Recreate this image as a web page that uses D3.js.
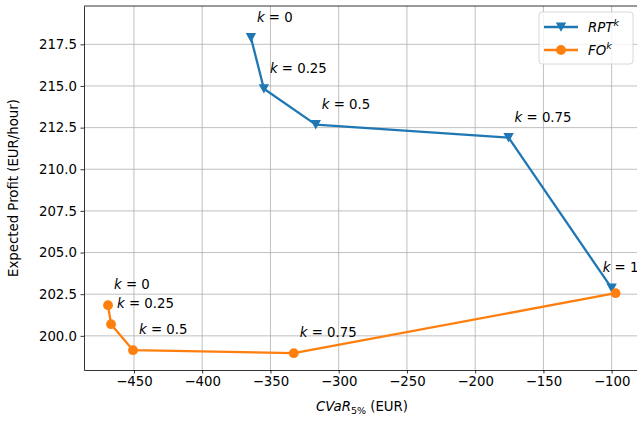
<!DOCTYPE html>
<html>
<head>
<meta charset="utf-8">
<script src="https://cdn.jsdelivr.net/npm/d3@7"></script>
<style>
  body { margin: 0; background: #fff; }
  svg text { font-family: "DejaVu Sans", sans-serif; }
</style>
</head>
<body>
<div id="chart"></div>
<script>
// data
const kLabels = ["0", "0.25", "0.5", "0.75", "1"];
const rptCvar = [-364.3, -354.8, -316.8, -175.5, -100.0];
const rptProfit = [217.9, 214.83, 212.68, 211.9, 202.86];
const foCvar = [-469.0, -466.8, -450.7, -332.9, -97.1];
const foProfit = [201.84, 200.7, 199.14, 198.96, 202.56];
const xTicks = [-450, -400, -350, -300, -250, -200, -150, -100];
const yTicks = [200.0, 202.5, 205.0, 207.5, 210.0, 212.5, 215.0, 217.5];

const width = 637, height = 422;
const margin = { left: 84, top: 6, right: -4, bottom: 52 };

const svg = d3.select("#chart").append("svg")
  .attr("width", width)
  .attr("height", height);

const x = d3.scaleLinear()
  .domain([-486.6, -78.5])
  .range([margin.left, width - margin.right]);
const y = d3.scaleLinear()
  .domain([197.95, 219.8])
  .range([height - margin.bottom, margin.top]);

const blue = "#1f77b4", orange = "#ff7f0e";

// grid
const grid = svg.append("g");
grid.selectAll(".gx").data(xTicks).enter().append("line")
  .attr("x1", d => x(d)).attr("x2", d => x(d))
  .attr("y1", y.range()[0]).attr("y2", y.range()[1])
  .attr("stroke", "#b0b0b0").attr("stroke-width", 0.8);
grid.selectAll(".gy").data(yTicks).enter().append("line")
  .attr("y1", d => y(d)).attr("y2", d => y(d))
  .attr("x1", x.range()[0]).attr("x2", x.range()[1])
  .attr("stroke", "#b0b0b0").attr("stroke-width", 0.8);

// axes
const xAxis = svg.append("g")
  .attr("transform", `translate(0,${y.range()[0]})`)
  .call(d3.axisBottom(x).tickValues(xTicks).tickSizeInner(3.5).tickSizeOuter(0).tickPadding(3.5)
    .tickFormat(d => d3.format("d")(d).replace("-", "\u2212")));
const yAxis = svg.append("g")
  .attr("transform", `translate(${x.range()[0]},0)`)
  .call(d3.axisLeft(y).tickValues(yTicks).tickSizeInner(3.5).tickSizeOuter(0).tickPadding(3.5)
    .tickFormat(d3.format(".1f")));
[xAxis, yAxis].forEach(a => {
  a.selectAll("text").attr("font-size", 13.3).attr("fill", "#000")
    .style("font-family", "DejaVu Sans");
  a.selectAll("line").attr("stroke", "#000").attr("stroke-width", 0.8);
  a.select(".domain").attr("stroke", "#000").attr("stroke-width", 0.8);
});
// top spine
svg.append("line")
  .attr("x1", x.range()[0]).attr("x2", x.range()[1])
  .attr("y1", y.range()[1]).attr("y2", y.range()[1])
  .attr("stroke", "#000").attr("stroke-width", 0.8);

// axis labels
const xl = svg.append("text")
  .attr("x", 362).attr("y", 411)
  .attr("text-anchor", "middle").attr("font-size", 13.3);
xl.append("tspan").attr("font-style", "italic").text("CVaR");
xl.append("tspan").attr("font-size", 9.5).attr("dy", 2.5).text("5%");
xl.append("tspan").attr("dy", -2.5).text(" (EUR)");

svg.append("text")
  .attr("transform", `translate(18,${(y.range()[0] + y.range()[1]) / 2}) rotate(-90)`)
  .attr("text-anchor", "middle").attr("font-size", 13.3)
  .text("Expected Profit (EUR/hour)");

const line = d3.line().x(d => x(d[0])).y(d => y(d[1]));
const rpt = d3.zip(rptCvar, rptProfit);
const fo = d3.zip(foCvar, foProfit);

const tri = "M-5.2,-4.6L5.2,-4.6L0,4.8Z";

function kText(sel, px, py, val) {
  const t = sel.append("text").attr("x", px).attr("y", py).attr("font-size", 13.3);
  t.append("tspan").attr("font-style", "italic").text("k");
  t.append("tspan").text(" = " + val);
}

// RPT series
svg.append("path").datum(rpt).attr("d", line)
  .attr("fill", "none").attr("stroke", blue).attr("stroke-width", 2.3)
  .attr("stroke-linejoin", "round");
svg.selectAll(".tri").data(rpt).enter().append("path")
  .attr("d", tri)
  .attr("transform", d => `translate(${x(d[0])},${y(d[1])})`)
  .attr("fill", blue);

// FO series
svg.append("path").datum(fo).attr("d", line)
  .attr("fill", "none").attr("stroke", orange).attr("stroke-width", 2.3)
  .attr("stroke-linejoin", "round");
svg.selectAll(".dot").data(fo).enter().append("circle")
  .attr("cx", d => x(d[0])).attr("cy", d => y(d[1])).attr("r", 4.9)
  .attr("fill", orange);

// annotations
const labels = svg.append("g");
rpt.forEach((d, i) => {
  const dx = i === 4 ? -9 : 6;
  kText(labels, x(d[0]) + dx, y(d[1]) - 16, kLabels[i]);
});
fo.forEach((d, i) => {
  if (i === 4) return;
  kText(labels, x(d[0]) + 6, y(d[1]) - 16, kLabels[i]);
});

// legend
const lg = svg.append("g").attr("transform", "translate(539,12)");
lg.append("rect").attr("width", 94).attr("height", 52).attr("rx", 3)
  .attr("fill", "#fff").attr("fill-opacity", 0.8)
  .attr("stroke", "#d8d8d8").attr("stroke-width", 1);
const entries = [
  { name: "RPT", color: blue, shape: "tri" },
  { name: "FO", color: orange, shape: "dot" }
];
entries.forEach((e, i) => {
  const cy = 15 + i * 23;
  lg.append("line").attr("x1", 5).attr("x2", 39).attr("y1", cy).attr("y2", cy)
    .attr("stroke", e.color).attr("stroke-width", 2.3);
  if (e.shape === "tri") {
    lg.append("path").attr("d", tri).attr("transform", `translate(22,${cy})`).attr("fill", e.color);
  } else {
    lg.append("circle").attr("cx", 22).attr("cy", cy).attr("r", 4.9).attr("fill", e.color);
  }
  const t = lg.append("text").attr("x", 49).attr("y", cy + 5).attr("font-size", 13.3)
    .attr("font-style", "italic");
  t.append("tspan").text(e.name);
  t.append("tspan").attr("font-size", 9.5).attr("dy", -6).text("k");
});
</script>
</body>
</html>
